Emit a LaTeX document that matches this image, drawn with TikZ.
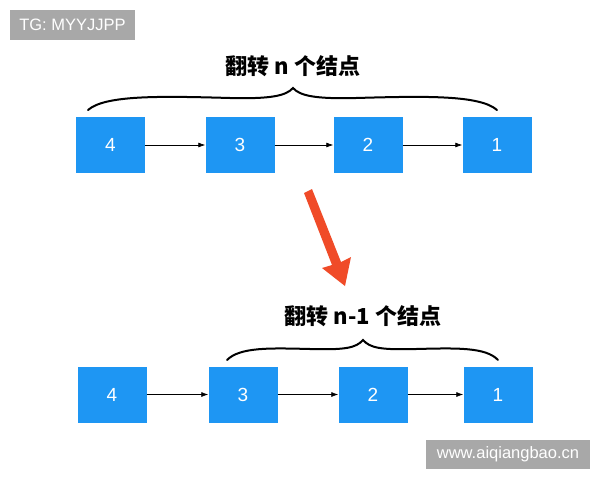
\documentclass[tikz,border=0pt]{standalone}
\usepackage{fontspec}
\setmainfont{Liberation Sans}
\newfontfamily\cjk{Noto Sans CJK SC}
\usetikzlibrary{arrows.meta}
\definecolor{boxblue}{RGB}{30,150,243}
\definecolor{redarrow}{RGB}{240,75,40}
\definecolor{wmgray}{RGB}{168,168,168}
\begin{document}
\begin{tikzpicture}[x=1pt,y=-1pt,
  nodebox/.style={fill=boxblue,minimum width=69pt,minimum height=56pt,inner sep=0pt,text=white,font=\fontsize{19}{19}\selectfont},
  link/.style={-{Latex[length=7pt,width=5pt]},line width=0.7pt},
  bracepath/.style={line width=2pt,line cap=round},
  title/.style={font=\cjk\bfseries\fontsize{22}{22}\selectfont},
  wm/.style={fill=wmgray,text=white,inner sep=0pt,font=\fontsize{16.5}{16.5}\selectfont}]
\useasboundingbox (0,0) rectangle (600,480);
\fill[white] (0,0) rectangle (600,480);
% watermarks
\node[wm,minimum width=125pt,minimum height=30pt] (wm1) at (72.5,25) {TG: MYYJJPP};
\node[wm,minimum width=164pt,minimum height=29pt] (wm2) at (508,454.5) {www.aiqiangbao.cn};
% top row
\node[nodebox] (a4) at (110.5,145) {4};
\node[nodebox] (a3) at (240,145) {3};
\node[nodebox] (a2) at (368,145) {2};
\node[nodebox] (a1) at (497,145) {1};
\draw[link] (a4) -- (a3);
\draw[link] (a3) -- (a2);
\draw[link] (a2) -- (a1);
\coordinate (b1l) at (88,110);
\coordinate (b1m) at (293,88);
\coordinate (b1r) at (497,110);
\draw[bracepath] (b1l) .. controls (105,95) and (160,96) .. (230,98) .. controls (270,99) and (286,96) .. (b1m)
  .. controls (300,96) and (316,99) .. (356,98) .. controls (426,96) and (480,95) .. (b1r);
\node[title] (t1) at (293,66) {翻转 n 个结点};
% red arrow
\fill[redarrow] (304,193) -- (312,189) -- (341,262) -- (351,257) -- (345,286) -- (322,268) -- (332,265) -- cycle;
% bottom row
\node[nodebox] (c4) at (112,394.5) {4};
\node[nodebox] (c3) at (243,394.5) {3};
\node[nodebox] (c2) at (373,394.5) {2};
\node[nodebox] (c1) at (498,394.5) {1};
\draw[link] (c4) -- (c3);
\draw[link] (c3) -- (c2);
\draw[link] (c2) -- (c1);
\coordinate (b2l) at (227,360);
\coordinate (b2m) at (363,340);
\coordinate (b2r) at (498,360);
\draw[bracepath] (b2l) .. controls (240,347) and (270,348) .. (310,349) .. controls (345,350) and (356,348) .. (b2m)
  .. controls (370,348) and (381,350) .. (416,349) .. controls (456,348) and (486,347) .. (b2r);
\node[title] (t2) at (363,316) {翻转 n-1 个结点};
\end{tikzpicture}
\end{document}
